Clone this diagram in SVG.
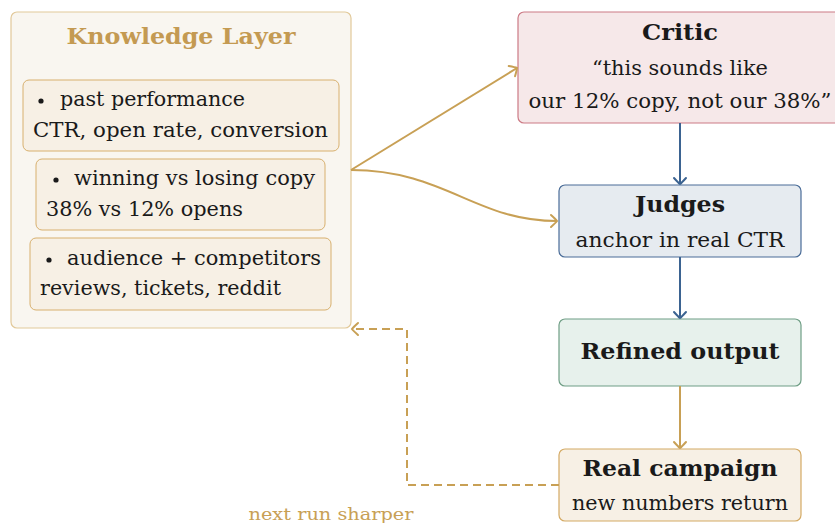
<svg xmlns="http://www.w3.org/2000/svg" width="835" height="523" viewBox="0 0 835 523">
<style>
text{font-family:"DejaVu Serif","Liberation Serif",serif;fill:#1a1a1a}
.b{font-size:21px}
.t{font-size:22px;font-weight:bold}
.c{text-anchor:middle}
.tan{stroke:#c8a055;stroke-width:2;fill:none}
.blue{stroke:#3b6391;stroke-width:2;fill:none}
</style>
<defs>
<marker id="at" markerUnits="userSpaceOnUse" viewBox="-10 -8 12 16" refX="0" refY="0" markerWidth="12" markerHeight="16" orient="auto" overflow="visible">
<path d="M-6,-6 Q-1,-1.5 0,0 Q-1,1.5 -6,6" fill="none" stroke="#c8a055" stroke-width="2" stroke-linecap="round"/>
</marker>
<marker id="ab" markerUnits="userSpaceOnUse" viewBox="-10 -8 12 16" refX="0" refY="0" markerWidth="12" markerHeight="16" orient="auto" overflow="visible">
<path d="M-6,-6 Q-1,-1.5 0,0 Q-1,1.5 -6,6" fill="none" stroke="#3b6391" stroke-width="2" stroke-linecap="round"/>
</marker>
</defs>
<rect width="835" height="523" fill="#ffffff"/>

<g id="knowledge">
<rect x="11" y="12" width="340" height="316" rx="6" fill="#f9f6f0" stroke="#e2c99a" stroke-width="1.2"/>
<text x="181" y="44" class="t c" style="fill:#c49a52;font-size:22px" textLength="229" lengthAdjust="spacingAndGlyphs">Knowledge Layer</text>
<g id="k1">
<rect x="23" y="80" width="316" height="71" rx="6" fill="#f7f0e5" stroke="#d8b06e" stroke-width="1"/>
<circle cx="41" cy="101" r="2.6" fill="#1a1a1a"/>
<text x="60" y="106" class="b" textLength="185" lengthAdjust="spacingAndGlyphs">past performance</text>
<text x="33" y="137" class="b" textLength="295" lengthAdjust="spacingAndGlyphs">CTR, open rate, conversion</text>
</g>
<g id="k2">
<rect x="36" y="159" width="289" height="71" rx="6" fill="#f7f0e5" stroke="#d8b06e" stroke-width="1"/>
<circle cx="56" cy="180" r="2.6" fill="#1a1a1a"/>
<text x="74" y="185" class="b" textLength="241" lengthAdjust="spacingAndGlyphs">winning vs losing copy</text>
<text x="46" y="216" class="b" textLength="197" lengthAdjust="spacingAndGlyphs">38% vs 12% opens</text>
</g>
<g id="k3">
<rect x="30" y="238" width="301" height="72" rx="6" fill="#f7f0e5" stroke="#d8b06e" stroke-width="1"/>
<circle cx="49" cy="260" r="2.6" fill="#1a1a1a"/>
<text x="67" y="265" class="b" textLength="254" lengthAdjust="spacingAndGlyphs">audience + competitors</text>
<text x="40" y="295" class="b" textLength="241" lengthAdjust="spacingAndGlyphs">reviews, tickets, reddit</text>
</g>
</g>

<g id="critic">
<rect x="518" y="12" width="330" height="111" rx="6" fill="#f6e8e9" stroke="#cc7a85" stroke-width="1.2"/>
<text x="680" y="40" class="t c" textLength="76" lengthAdjust="spacingAndGlyphs">Critic</text>
<text x="680" y="75" class="b c" textLength="176" lengthAdjust="spacingAndGlyphs">“this sounds like</text>
<text x="680" y="108" class="b c" textLength="303" lengthAdjust="spacingAndGlyphs">our 12% copy, not our 38%”</text>
</g>

<g id="judges">
<rect x="559" y="185" width="242" height="72" rx="6" fill="#e6ebf0" stroke="#4a6c98" stroke-width="1.2"/>
<text x="680" y="212" class="t c" textLength="90" lengthAdjust="spacingAndGlyphs">Judges</text>
<text x="680" y="247" class="b c" textLength="209" lengthAdjust="spacingAndGlyphs">anchor in real CTR</text>
</g>

<g id="refined">
<rect x="559" y="319" width="242" height="67" rx="6" fill="#e7f1ec" stroke="#6f9e85" stroke-width="1.2"/>
<text x="680" y="359" class="t c" textLength="199" lengthAdjust="spacingAndGlyphs">Refined output</text>
</g>

<g id="campaign">
<rect x="559" y="449" width="242" height="72" rx="6" fill="#f7f0e5" stroke="#d4aa64" stroke-width="1.2"/>
<text x="680" y="476" class="t c" textLength="195" lengthAdjust="spacingAndGlyphs">Real campaign</text>
<text x="680" y="510" class="b c" textLength="216" lengthAdjust="spacingAndGlyphs">new numbers return</text>
</g>

<g id="connectors">
<path class="tan" d="M351,170 L517,68" marker-end="url(#at)"/>
<path class="tan" d="M351,170 C445,170 475,221 557,221" marker-end="url(#at)"/>
<path class="blue" d="M680,123 L680,184" marker-end="url(#ab)"/>
<path class="blue" d="M680,257 L680,318" marker-end="url(#ab)"/>
<path class="tan" d="M680,386 L680,448" marker-end="url(#at)"/>
<path class="tan" d="M559,485 L407,485 L407,329 L352,329" stroke-dasharray="8,5" marker-end="url(#at)"/>
<text x="331" y="520" class="c" style="font-size:17px;fill:#c8a055" textLength="165" lengthAdjust="spacingAndGlyphs">next run sharper</text>
</g>
</svg>
